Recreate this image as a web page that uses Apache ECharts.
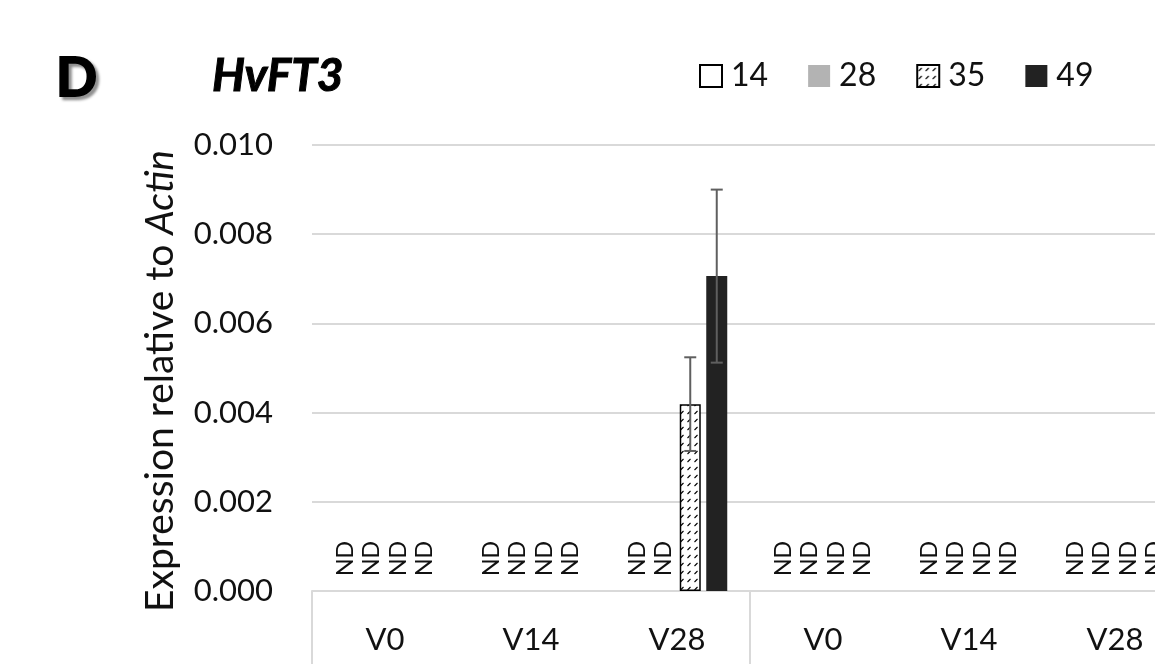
<!DOCTYPE html>
<html>
<head>
<meta charset="utf-8">
<script src="https://cdn.jsdelivr.net/npm/echarts@6/dist/echarts.min.js"></script>
<style>
html,body{margin:0;padding:0;background:#fff;}
#c{width:1155px;height:664px;}
</style>
</head>
<body>
<div id="c"></div>
<script>
// ---- data ----
var categories = ['V0', 'V14', 'V28', 'V0', 'V14', 'V28'];
var seriesNames = ['14', '28', '35', '49'];
// null = ND (not detected)
var values14 = [null, null, null, null, null, null];
var values28 = [null, null, null, null, null, null];
var values35 = [null, null, 0.00419, null, null, null];
var values49 = [null, null, 0.00706, null, null, null];
var errors35 = [null, null, 0.00105, null, null, null];
var errors49 = [null, null, 0.00194, null, null, null];
var yTickLabels = ['0.000', '0.002', '0.004', '0.006', '0.008', '0.010'];

// ---- styling ----
var FONT = 'Lato';
var BW = 21, BGAP = 5.5;

var pat = document.createElement('canvas');
pat.width = 7; pat.height = 8;
var g = pat.getContext('2d');
g.fillStyle = '#fff'; g.fillRect(0, 0, 7, 8);
g.strokeStyle = '#000'; g.lineWidth = 1.1;
g.beginPath(); g.moveTo(1.5, 6); g.lineTo(4.5, 3); g.stroke();

var styles = [
  { color: '#ffffff', borderColor: '#000', borderWidth: 2 },
  { color: '#b3b3b3' },
  { color: { image: pat, repeat: 'repeat' }, borderColor: '#000', borderWidth: 1.5 },
  { color: '#222222' }
];
var allValues = [values14, values28, values35, values49];

function buildData(vals) {
  return vals.map(function (v) {
    if (v == null) {
      return {
        value: 0,
        itemStyle: { color: 'rgba(0,0,0,0)', borderWidth: 0 },
        label: { show: true, formatter: 'ND' }
      };
    }
    return { value: v };
  });
}

var series = allValues.map(function (vals, k) {
  return {
    name: seriesNames[k],
    type: 'bar',
    barWidth: BW,
    barGap: (BGAP / BW * 100) + '%',
    itemStyle: styles[k],
    label: {
      show: false,
      position: 'top',
      distance: 15,
      rotate: 90,
      align: 'left',
      verticalAlign: 'middle',
      fontFamily: FONT,
      fontSize: 23,
      color: '#111'
    },
    data: buildData(vals)
  };
});

function errSeries(k, vals, errs) {
  var d = [];
  for (var i = 0; i < vals.length; i++) {
    if (vals[i] != null && errs[i] != null) d.push([i, vals[i] - errs[i], vals[i] + errs[i]]);
  }
  return {
    type: 'custom',
    z: 5,
    silent: true,
    data: d,
    renderItem: function (params, api) {
      var x = api.value(0);
      var lo = api.coord([x, api.value(1)]);
      var hi = api.coord([x, api.value(2)]);
      var off = (k - 1.5) * (BW + BGAP);
      var cx = lo[0] + off;
      var cap = 6;
      var st = { stroke: '#5f5f5f', lineWidth: 2 };
      return {
        type: 'group',
        children: [
          { type: 'line', shape: { x1: cx, y1: lo[1], x2: cx, y2: hi[1] }, style: st },
          { type: 'line', shape: { x1: cx - cap, y1: hi[1], x2: cx + cap, y2: hi[1] }, style: st },
          { type: 'line', shape: { x1: cx - cap, y1: lo[1], x2: cx + cap, y2: lo[1] }, style: st }
        ]
      };
    }
  };
}
series.push(errSeries(2, values35, errors35));
series.push(errSeries(3, values49, errors49));

var chart = echarts.init(document.getElementById('c'), null, { renderer: 'canvas' });
chart.setOption({
  animation: false,
  backgroundColor: '#fff',
  textStyle: { fontFamily: FONT },
  graphic: [
    { type: 'text', x: 56, y: 79, z: 10, style: { text: 'D', fontFamily: FONT, fontWeight: 'bold', fontSize: 54, fill: '#000', stroke: '#000', lineWidth: 2, textVerticalAlign: 'middle', textShadowColor: 'rgba(0,0,0,0.4)', textShadowBlur: 3, textShadowOffsetX: 3, textShadowOffsetY: 3 } },
    { type: 'text', x: 212, y: 76, style: { text: 'HvFT3', fontFamily: FONT, fontWeight: 'bold', fontStyle: 'italic', fontSize: 46, fill: '#000', stroke: '#000', lineWidth: 1, textVerticalAlign: 'middle' } },
    {
      type: 'text', x: 160, y: 381, rotation: Math.PI / 2,
      style: {
        text: 'Expression relative to {i|Actin}',
        fontFamily: FONT, fontSize: 39, fill: '#111',
        align: 'center', verticalAlign: 'middle',
        rich: { i: { fontFamily: FONT, fontSize: 39, fontStyle: 'italic', fill: '#111' } }
      }
    }
  ],
  legend: {
    left: 694,
    top: 55,
    itemWidth: 22,
    itemHeight: 22,
    itemGap: 40,
    icon: 'rect',
    data: seriesNames,
    textStyle: { fontFamily: FONT, fontSize: 32, color: '#111', padding: [0, 0, 0, 4] }
  },
  grid: { left: 312, top: 145, bottom: 73, right: -33, outerBoundsMode: 'none', containLabel: false },
  xAxis: {
    type: 'category',
    data: categories,
    axisLine: { show: true, lineStyle: { color: '#d9d9d9', width: 2 } },
    axisTick: {
      show: true,
      length: 90,
      interval: function (index) { return index % 3 === 0; },
      lineStyle: { color: '#d9d9d9', width: 2 }
    },
    axisLabel: { interval: 0, margin: 33, fontFamily: FONT, fontSize: 31, color: '#111' }
  },
  yAxis: {
    type: 'value',
    min: 0,
    max: 0.01,
    interval: 0.002,
    axisLine: { show: false },
    axisTick: { show: false },
    splitLine: { lineStyle: { color: '#d9d9d9', width: 2 } },
    axisLabel: {
      margin: 39,
      fontFamily: FONT,
      fontSize: 31,
      color: '#111',
      formatter: function (v) { return yTickLabels[Math.round(v / 0.002)]; }
    }
  },
  series: series
});
</script>
</body>
</html>
